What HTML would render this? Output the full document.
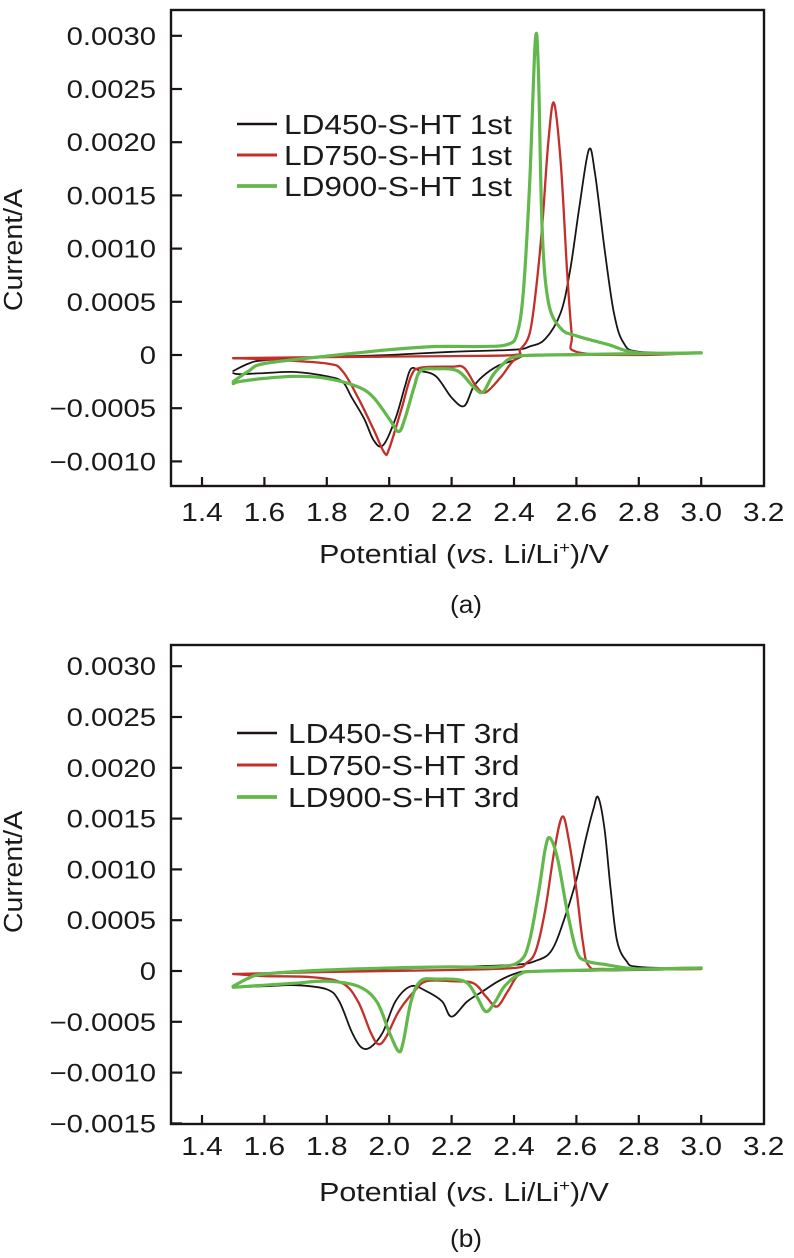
<!DOCTYPE html>
<html><head><meta charset="utf-8">
<style>
html,body{margin:0;padding:0;background:#fff;}
svg{display:block;font-family:"Liberation Sans",Arial,sans-serif;}
</style></head>
<body>
<svg id="fig" width="794" height="1258" viewBox="0 0 794 1258" xmlns="http://www.w3.org/2000/svg"></svg>
<script>
// ---- data ----
const xTicks = [1.4,1.6,1.8,2.0,2.2,2.4,2.6,2.8,3.0,3.2];
const xTickLabels = ["1.4","1.6","1.8","2.0","2.2","2.4","2.6","2.8","3.0","3.2"];
const yTicksA = [0.0030,0.0025,0.0020,0.0015,0.0010,0.0005,0,-0.0005,-0.0010];
const yTickLabelsA = ["0.0030","0.0025","0.0020","0.0015","0.0010","0.0005","0","\u22120.0005","\u22120.0010"];
const yTicksB = [0.0030,0.0025,0.0020,0.0015,0.0010,0.0005,0,-0.0005,-0.0010,-0.0015];
const yTickLabelsB = ["0.0030","0.0025","0.0020","0.0015","0.0010","0.0005","0","\u22120.0005","\u22120.0010","\u22120.0015"];
const seriesNamesA = ["LD450-S-HT 1st","LD750-S-HT 1st","LD900-S-HT 1st"];
const seriesNamesB = ["LD450-S-HT 3rd","LD750-S-HT 3rd","LD900-S-HT 3rd"];

// panel (a) — LD450 1st
const a450UpV = [1.5,1.55,1.6,1.8,2.0,2.2,2.4,2.45,2.5,2.55,2.58,2.61,2.64,2.66,2.69,2.72,2.75,2.8,3.0];
const a450UpI = [-0.00015,-0.00008,-0.00005,-0.00002,0,0.00003,0.00005,0.00008,0.00015,0.0004,0.0008,0.0014,0.00193,0.0017,0.001,0.0004,0.00012,0.00003,0.00002];
const a450DnV = [3.0,2.8,2.6,2.45,2.4,2.35,2.3,2.27,2.24,2.2,2.15,2.1,2.07,2.05,2.02,1.98,1.95,1.92,1.88,1.85,1.8,1.7,1.6,1.52,1.5];
const a450DnI = [0.00002,0,0,0,-0.00005,-0.0001,-0.0002,-0.0003,-0.00048,-0.0004,-0.0002,-0.00015,-0.00013,-0.0003,-0.0006,-0.00085,-0.0008,-0.0006,-0.0004,-0.00025,-0.0002,-0.00016,-0.00017,-0.00018,-0.00017];
// LD750 1st
const a750UpV = [1.5,1.8,2.2,2.4,2.42,2.45,2.47,2.49,2.51,2.528,2.55,2.57,2.585,2.6,2.8,3.0];
const a750UpI = [-0.00003,-0.00002,-0.00001,0,0.00005,0.0002,0.0006,0.0012,0.002,0.00237,0.0018,0.0008,0.0002,0.00003,0,0.00002];
const a750DnV = [3.0,2.6,2.45,2.4,2.36,2.31,2.28,2.24,2.2,2.1,2.07,2.04,2.0,1.985,1.95,1.9,1.85,1.8,1.6,1.5];
const a750DnI = [0.00002,0,0,-0.00005,-0.0002,-0.00035,-0.0003,-0.00012,-0.00011,-0.00012,-0.0002,-0.0005,-0.00088,-0.00092,-0.0007,-0.0004,-0.00015,-0.00008,-0.00004,-0.00003];
// LD900 1st
const a900UpV = [1.5,1.55,1.6,1.8,1.9,2.0,2.15,2.3,2.38,2.41,2.43,2.45,2.468,2.478,2.49,2.51,2.55,2.6,2.7,2.8,3.0];
const a900UpI = [-0.00025,-0.00015,-0.00008,-0.00001,0.00002,0.00005,0.00008,0.00008,0.0001,0.0002,0.0006,0.0016,0.00294,0.0027,0.0012,0.0005,0.00025,0.00018,0.0001,0.00002,0.00002];
const a900DnV = [3.0,2.5,2.4,2.36,2.33,2.3,2.27,2.22,2.15,2.1,2.08,2.05,2.03,2.0,1.95,1.9,1.8,1.7,1.6,1.52,1.5];
const a900DnI = [0.00002,0,-0.00002,-0.0001,-0.0002,-0.00035,-0.0003,-0.00015,-0.00013,-0.00015,-0.0003,-0.0006,-0.00072,-0.0006,-0.0004,-0.0003,-0.00022,-0.0002,-0.00022,-0.00025,-0.00027];

// panel (b) — 3rd cycle
const b450UpV = [1.5,1.55,1.6,1.8,2.0,2.2,2.4,2.47,2.52,2.56,2.6,2.63,2.655,2.67,2.69,2.71,2.73,2.76,2.8,3.0];
const b450UpI = [-0.00015,-0.00007,-0.00003,0,0.00002,0.00004,0.00006,0.0001,0.0002,0.0005,0.0009,0.0013,0.0016,0.00171,0.0014,0.0008,0.0003,0.0001,0.00004,0.00002];
const b450DnV = [3.0,2.6,2.45,2.4,2.35,2.3,2.25,2.2,2.17,2.12,2.07,2.02,1.98,1.94,1.91,1.88,1.84,1.8,1.7,1.6,1.5];
const b450DnI = [0.00002,0,0,-0.00003,-0.0001,-0.0002,-0.0003,-0.00045,-0.0003,-0.0002,-0.00015,-0.0003,-0.0006,-0.00075,-0.00075,-0.0006,-0.0003,-0.00018,-0.00014,-0.00015,-0.00016];
const b750UpV = [1.5,1.8,2.2,2.4,2.44,2.47,2.5,2.53,2.555,2.575,2.6,2.62,2.64,2.7,3.0];
const b750UpI = [-0.00003,-0.00001,0.00001,0.00003,0.00008,0.0002,0.0006,0.0012,0.00152,0.0013,0.0008,0.0003,0.00005,0.00002,0.00002];
const b750DnV = [3.0,2.5,2.42,2.38,2.345,2.31,2.27,2.2,2.12,2.08,2.03,1.99,1.965,1.94,1.9,1.85,1.75,1.6,1.5];
const b750DnI = [0.00002,0,-0.00003,-0.0002,-0.00035,-0.00025,-0.00012,-0.0001,-0.0001,-0.0002,-0.0004,-0.00065,-0.00072,-0.0006,-0.0003,-0.00012,-0.00006,-0.00005,-0.00003];
const b900UpV = [1.5,1.55,1.6,1.8,2.0,2.2,2.35,2.42,2.45,2.48,2.5,2.515,2.54,2.57,2.6,2.63,2.7,2.8,3.0];
const b900UpI = [-0.00015,-0.00007,-0.00003,0.00001,0.00003,0.00004,0.00004,0.0001,0.0003,0.0008,0.0012,0.00131,0.0011,0.0006,0.0002,0.0001,0.00006,0.00002,0.00003];
const b900DnV = [3.0,2.5,2.42,2.37,2.34,2.31,2.28,2.24,2.15,2.1,2.07,2.045,2.03,2.0,1.96,1.9,1.8,1.7,1.6,1.5];
const b900DnI = [0.00003,0,-0.00003,-0.00015,-0.0003,-0.0004,-0.00025,-0.0001,-0.00008,-0.0001,-0.0003,-0.0007,-0.00079,-0.0006,-0.0003,-0.00015,-0.0001,-0.00012,-0.00014,-0.00016];

const NS = "http://www.w3.org/2000/svg";
const svg = document.getElementById('fig');
const colors = ["#1a1414","#c3302b","#62b84a"];
const widths = [1.8,2.3,3.2];

function mk(tag, attrs, parent){
  const e = document.createElementNS(NS, tag);
  for (const k in attrs) e.setAttribute(k, attrs[k]);
  (parent||svg).appendChild(e);
  return e;
}
function txt(str, x, y, size, anchor, sx, parent){
  const t = mk('text', {x:0, y:0, 'font-size':size, 'text-anchor':anchor, fill:'#1a1a1a',
    transform:`translate(${x},${y}) scale(${sx},1)`}, parent);
  t.textContent = str;
  return t;
}
function smoothPath(pts){
  let d = `M${pts[0][0].toFixed(1)},${pts[0][1].toFixed(1)}`;
  for (let i=0;i<pts.length-1;i++){
    const p0=pts[Math.max(0,i-1)], p1=pts[i], p2=pts[i+1], p3=pts[Math.min(pts.length-1,i+2)];
    const c1=[p1[0]+(p2[0]-p0[0])/6, p1[1]+(p2[1]-p0[1])/6];
    const c2=[p2[0]-(p3[0]-p1[0])/6, p2[1]-(p3[1]-p1[1])/6];
    d += ` C${c1[0].toFixed(1)},${c1[1].toFixed(1)} ${c2[0].toFixed(1)},${c2[1].toFixed(1)} ${p2[0].toFixed(1)},${p2[1].toFixed(1)}`;
  }
  return d;
}

function panel(cfg){
  const g = mk('g', {});
  
  
  const xs = v => cfg.x0 + (v-1.4)*cfg.xPer;
  const ys = v => cfg.yZero - v/0.0005*cfg.yPer;
  const frame = mk('rect', {x:cfg.left, y:cfg.top, width:cfg.right-cfg.left, height:cfg.bottom-cfg.top, fill:'none', stroke:'#1a1414', 'stroke-width':2.4}, g);
  
  
  const xg = mk('g', {}, g);
  
  
  xTicks.forEach((v,i)=>{
    const x = xs(v);
    if (i < xTicks.length-1) mk('line', {x1:x, x2:x, y1:cfg.bottom, y2:cfg.bottom-9, stroke:'#1a1414','stroke-width':2.2}, xg);
    const t = txt(xTickLabels[i], x, cfg.bottom+cfg.xLabOff, 26, 'middle', 1.15, xg);
    
    
  });
  const yg = mk('g', {}, g);
  
  
  cfg.yTicks.forEach((v,i)=>{
    const y = ys(v);
    mk('line', {x1:cfg.left, x2:cfg.left+11, y1:y, y2:y, stroke:'#1a1414','stroke-width':2.2}, yg);
    const t = txt(cfg.yLabels[i], 156, y+9, 25, 'end', 1.17, yg);
    
    
  });
  const yt = mk('text', {x:0, y:0, 'font-size':26, 'text-anchor':'middle', fill:'#1a1a1a', transform:`translate(${cfg.yTitleX},${cfg.yTitleY}) rotate(-90) scale(1.1,1)`}, g);
  yt.textContent = 'Current/A';
  
  
  const xt = mk('text', {x:0, y:0, 'font-size':26, 'text-anchor':'middle', fill:'#1a1a1a', transform:`translate(464,${cfg.xTitleY}) scale(1.17,1)`}, g);
  xt.innerHTML = 'Potential (<tspan font-style="italic">vs</tspan>. Li/Li<tspan font-size="16" dy="-10">+</tspan><tspan dy="10">)/V</tspan>';
  
  
  const cap = txt(cfg.caption, 466, cfg.captionY, 25, 'middle', 1.05, g);
  
  
  cfg.series.forEach((s,k)=>{
    const sg = mk('g', {}, g);
    
    
    [[s[0],s[1]],[s[2],s[3]]].forEach(br=>{
      const pts = br[0].map((v,i)=>[xs(v), ys(br[1][i])]);
      const p = mk('path', {d:smoothPath(pts), fill:'none', stroke:colors[k], 'stroke-width':widths[k], 'stroke-linejoin':'round','stroke-linecap':'round'}, sg);
      
      
    });
  });
  const lg = mk('g', {}, g);
  
  
  cfg.names.forEach((n,k)=>{
    const y = cfg.legY + k*cfg.legGap;
    const e = mk('g', {}, lg);
    
    
    mk('line', {x1:237, x2:277, y1:y, y2:y, stroke:colors[k], 'stroke-width':widths[k]+0.6}, e);
    txt(n, cfg.legTextX, y+10, 28, 'start', 1.13, e);
  });
}

panel({name:'chart-a', left:171, right:764, top:10, bottom:486, x0:202, xPer:312, yZero:355, yPer:53.2, xLabOff:35,
  yTicks:yTicksA, yLabels:yTickLabelsA, names:seriesNamesA, yTitleX:22, yTitleY:250, xTitleY:563, caption:'(a)', captionY:613,
  legY:124, legGap:31, legTextX:284,
  series:[[a450UpV,a450UpI,a450DnV,a450DnI],[a750UpV,a750UpI,a750DnV,a750DnI],[a900UpV,a900UpI,a900DnV,a900DnI]]});
panel({name:'chart-b', left:171, right:764, top:645, bottom:1124, x0:202, xPer:312, yZero:971, yPer:50.8, xLabOff:31,
  yTicks:yTicksB, yLabels:yTickLabelsB, names:seriesNamesB, yTitleX:22, yTitleY:872, xTitleY:1201, caption:'(b)', captionY:1247,
  legY:733, legGap:32, legTextX:288,
  series:[[b450UpV,b450UpI,b450DnV,b450DnI],[b750UpV,b750UpI,b750DnV,b750DnI],[b900UpV,b900UpI,b900DnV,b900DnI]]});
</script>
</body></html>
